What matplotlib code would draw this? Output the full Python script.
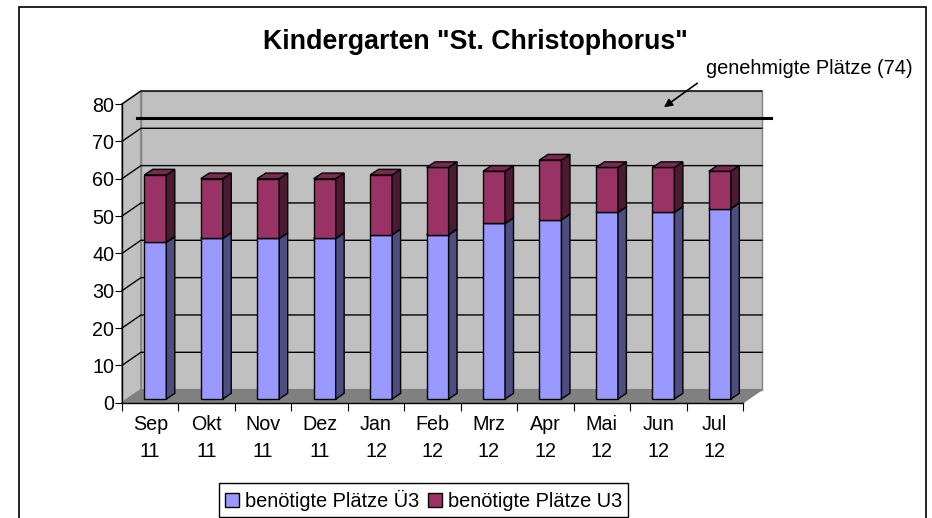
import numpy as np
import matplotlib
matplotlib.use("Agg")
import matplotlib.pyplot as plt
from matplotlib.patches import Polygon, Rectangle

plt.rcParams['font.family'] = ['Liberation Sans', 'DejaVu Sans']

months = ['Sep\n11', 'Okt\n11', 'Nov\n11', 'Dez\n11', 'Jan\n12', 'Feb\n12',
          'Mrz\n12', 'Apr\n12', 'Mai\n12', 'Jun\n12', 'Jul\n12']
ue3 = [42, 43, 43, 43, 44, 44, 47, 48, 50, 50, 51]
u3 = [18, 16, 16, 16, 16, 18, 14, 16, 12, 12, 10]
approved = 74

# fake 3d geometry (data units)
wall_dx, wall_dy = 0.336, 3.5     # depth of walls
bar_ox, bar_oy = 0.09, 1.0        # bar front face offset
bar_dx, bar_dy = 0.15, 1.5        # bar depth
bar_w = 0.39

fig = plt.figure(figsize=(9.32, 5.18), dpi=100)
ax = fig.add_axes([122/932, 1 - 402.7/518, 621/932, 298.7/518])
ax.set_xlim(0, len(months))
ax.set_ylim(0, 80)
n = len(months)

# walls and floor
ax.add_patch(Polygon([(0, 0), (wall_dx, wall_dy), (wall_dx, 80 + wall_dy), (0, 80)],
                     closed=True, fc='#c0c0c0', ec='#808080', lw=1, clip_on=False, zorder=0))
ax.add_patch(Polygon([(wall_dx, wall_dy), (n + wall_dx, wall_dy), (n + wall_dx, 80 + wall_dy),
                      (wall_dx, 80 + wall_dy)],
                     closed=True, fc='#c0c0c0', ec='#808080', lw=1, clip_on=False, zorder=0))
for v in range(10, 81, 10):
    ax.plot([0, wall_dx, n + wall_dx], [v, v + wall_dy, v + wall_dy], color='black', lw=1,
            clip_on=False, zorder=1)
ax.add_patch(Polygon([(0, 0), (n, 0), (n + wall_dx, wall_dy), (wall_dx, wall_dy)],
                     closed=True, fc='#808080', ec='#808080', lw=1, clip_on=False, zorder=1))

x = np.arange(n) + 0.5 + bar_ox
base = np.full(n, bar_oy)
series = [(ue3, '#9999ff', '#4d4d80', '#7a7acc', 'benötigte Plätze Ü3'),
          (u3, '#993366', '#4d1a33', '#7a2952', 'benötigte Plätze U3')]
for vals, front, side, top, lab in series:
    vals = np.array(vals, dtype=float)
    ax.bar(x, vals, bar_w, bottom=base, color=front, edgecolor='black', lw=1,
           label=lab, zorder=3)
    for xi, b, h in zip(x, base, vals):
        xr = xi + bar_w / 2
        xl = xi - bar_w / 2
        t = b + h
        ax.add_patch(Polygon([(xr, b), (xr + bar_dx, b + bar_dy), (xr + bar_dx, t + bar_dy), (xr, t)],
                             closed=True, fc=side, ec='black', lw=1, zorder=3))
        ax.add_patch(Polygon([(xl, t), (xl + bar_dx, t + bar_dy), (xr + bar_dx, t + bar_dy), (xr, t)],
                             closed=True, fc=top, ec='black', lw=1, zorder=3))
    base = base + vals

# approved places line
ax.plot([0.27, n + 0.5], [approved + 2.3] * 2, color='black', lw=2.2, clip_on=False, zorder=5)
ax.annotate('', xy=(9.56, 78.7), xytext=(10.23, 86.0),
            arrowprops=dict(arrowstyle='-|>', color='black', lw=1.2, mutation_scale=12),
            annotation_clip=False, zorder=6)
fig.text(706/932, 1 - 68/518, 'genehmigte Plätze (%d)' % approved, ha='left', va='center',
         fontsize=14.4)

# axes
for s in ['top', 'right']:
    ax.spines[s].set_visible(False)
ax.spines['left'].set_linewidth(1)
ax.spines['bottom'].set_linewidth(1)
ax.set_yticks(range(0, 81, 10))
ax.set_xticks(range(0, n + 1))
ax.set_xticklabels([])
ax.set_xticks(np.arange(n) + 0.5, minor=True)
ax.set_xticklabels(months, minor=True, linespacing=1.55)
ax.tick_params(axis='x', which='major', length=6, direction='out')
ax.tick_params(axis='x', which='minor', length=0, pad=9, labelsize=14.2)
ax.tick_params(axis='y', length=5, direction='out', labelsize=14.2, pad=0.5)
ax.set_facecolor('none')

fig.text(475/932, 1 - 42/518, 'Kindergarten "St. Christophorus"', ha='center', va='center',
         fontsize=19.3, fontweight='bold')

fig.legend(loc='center', bbox_to_anchor=(423.5/932, 1 - 500/518), ncol=2, fontsize=14.4,
           frameon=True, fancybox=False, edgecolor='black', framealpha=1,
           handlelength=0.7, handleheight=0.7, handletextpad=0.3, columnspacing=0.4,
           borderpad=0.3, borderaxespad=0)

fig.patches.append(Rectangle((18.5/932, -0.05), (925.7 - 18.5)/932, 1.05 - 7/518,
                             transform=fig.transFigure, fill=False, ec='black', lw=1.2))

fig.savefig('out.png', dpi=100)
